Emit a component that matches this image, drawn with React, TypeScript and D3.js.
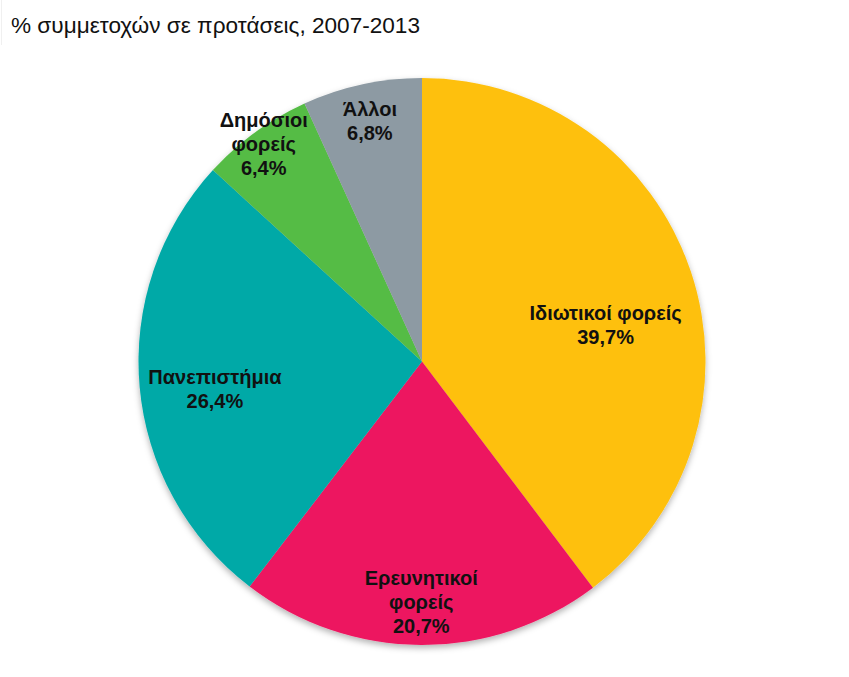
import React from "react";
import * as d3 from "d3";

const categories = ["Ιδιωτικοί φορείς", "Ερευνητικοί φορείς", "Πανεπιστήμια", "Δημόσιοι φορείς", "Άλλοι"];
const values = [39.7, 20.7, 26.4, 6.4, 6.8];
const labelLines = [
  ["Ιδιωτικοί φορείς"],
  ["Ερευνητικοί", "φορείς"],
  ["Πανεπιστήμια"],
  ["Δημόσιοι", "φορείς"],
  ["Άλλοι"],
];
const colors = ["#FEC00F", "#ED1660", "#00A9A7", "#55BC45", "#8D9AA3"];
const title = "% συμμετοχών σε προτάσεις, 2007-2013";

// label layout (radius fraction, angle nudge in degrees)
const labelRadius = [0.66, 0.85, 0.737, 0.95, 0.868];
const labelNudge = [7.4, 0, -2.6, 0, 0];

export default function App() {
  const W = 849, H = 677;
  const cx = 422, cy = 361.5, R = 283.5;
  const pie = d3.pie<number>().sort(null).value((d) => d)(values);
  const arc = d3.arc<d3.PieArcDatum<number>>().innerRadius(0).outerRadius(R);
  const fmt = (v: number) => v.toFixed(1).replace(".", ",") + "%";
  const lh = 24;
  return (
    <svg width={W} height={H} style={{ position: "absolute", left: 0, top: 0, background: "#fff" }}>
      <defs>
        <filter id="sh" x="-10%" y="-10%" width="120%" height="120%">
          <feDropShadow dx="0" dy="3" stdDeviation="3" floodColor="#000" floodOpacity="0.3" />
        </filter>
      </defs>
      <line x1={1.5} x2={1.5} y1={0} y2={45} stroke="#f0f0f0" strokeWidth={1} />
      <text x={11} y={33} fontFamily="Liberation Sans, Arial, sans-serif" fontSize={22.6} fill="#111">
        {title}
      </text>
      <g transform={`translate(${cx},${cy})`}>
        <g filter="url(#sh)">
          {pie.map((p, i) => (
            <path key={categories[i]} d={arc(p) || ""} fill={colors[i]} />
          ))}
        </g>
        {pie.map((p, i) => {
          const mid = (p.startAngle + p.endAngle) / 2 + (labelNudge[i] * Math.PI) / 180;
          const r = labelRadius[i] * R;
          const x = r * Math.sin(mid);
          const y = -r * Math.cos(mid);
          const lines = [...labelLines[i], fmt(values[i])];
          const n = lines.length;
          return (
            <text
              key={"l" + i}
              textAnchor="middle"
              fontFamily="Liberation Sans, Arial, sans-serif"
              fontWeight="bold"
              fontSize={20}
              fill="#111"
            >
              {lines.map((t, j) => (
                <tspan key={j} x={x} y={y + (j - (n - 1) / 2) * lh + 7}>
                  {t}
                </tspan>
              ))}
            </text>
          );
        })}
      </g>
    </svg>
  );
}
